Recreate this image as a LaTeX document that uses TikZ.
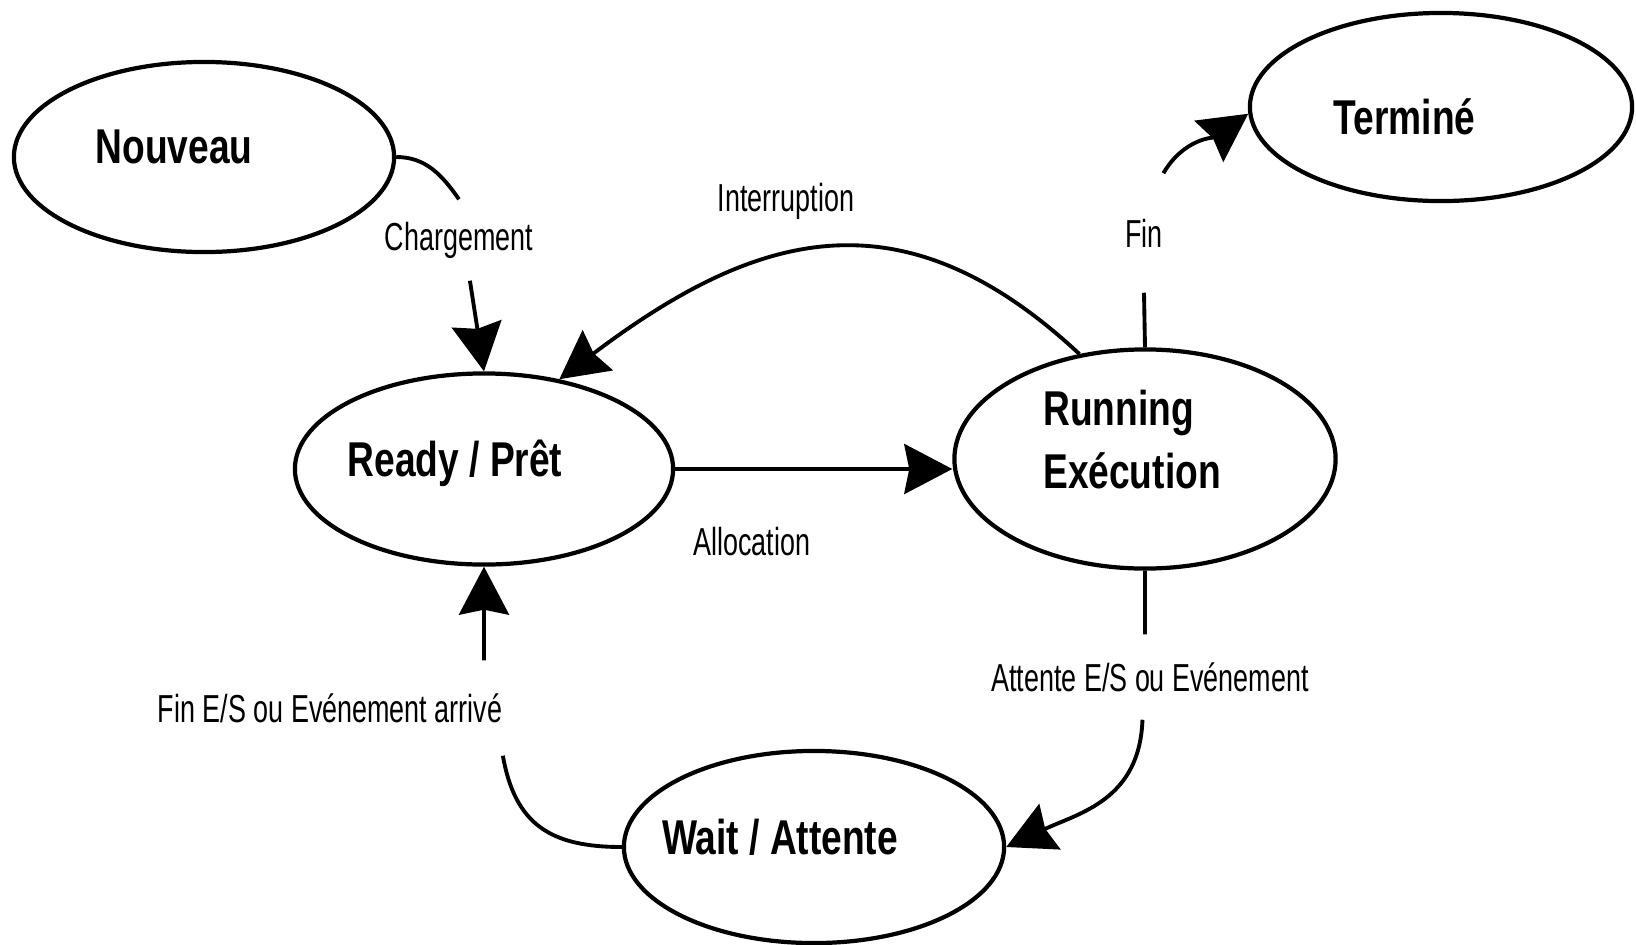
\documentclass[tikz,border=0pt]{standalone}
\usepackage{fontspec}
\usetikzlibrary{shapes.geometric,arrows.meta}
\newfontfamily\grasfont[FakeStretch=0.76]{Liberation Sans}
\newfontfamily\petitfont[FakeStretch=0.69]{Liberation Sans}
\newcommand{\bas}[1]{\rule[-#1]{0pt}{#1}}

\begin{document}
\begin{tikzpicture}[x=0.01cm, y=0.01cm,
   etat/.style={ellipse, draw, line width=1.2pt, inner sep=0pt, minimum width=3.8cm, minimum height=1.9cm,
                align=left, font=\grasfont\bfseries\fontsize{13.9}{17.9}\selectfont},
   lbl/.style={inner sep=0pt, font=\petitfont\fontsize{11.1}{13}\selectfont},
   fleche/.style={-{Stealth[length=4.8mm,width=5mm,inset=0.5mm]}, line width=1.1pt}]
 \useasboundingbox (0,0) rectangle (1636,944);

 % les etats
 \node (nouveau) [etat] at (204,787) {\hspace*{-0.6cm}Nouveau\bas{0.2cm}};
 \node (termine) [etat, minimum width=3.82cm, minimum height=1.88cm] at (1441,837) {\hspace*{-0.73cm}Terminé\rule{0pt}{0.55cm}};
 \node (ready) [etat, minimum width=3.78cm, minimum height=1.91cm] at (484,475) {\hspace*{-0.58cm}Ready / Prêt\bas{0.22cm}};
 \node (running) [etat, minimum width=3.81cm, minimum height=2.19cm] at (1145,485) {\hspace*{-0.26cm}Running\\\hspace*{-0.26cm}Exécution\bas{0.4cm}};
 \node (wait) [etat, minimum height=1.92cm] at (814,97) {\hspace*{-0.68cm}Wait / Attente\bas{0.2cm}};

 % les transitions
 \node (charg) [lbl, minimum height=0.8cm] at (459,704) {Chargement};
 \node (interr) [lbl, anchor=base] at (786,733) {Interruption};
 \node (fin) [lbl, minimum height=1.18cm] at (1144,711) {Fin};
 \node (alloc) [lbl, anchor=base] at (752,389) {Allocation};
 \node (attente) [lbl, minimum height=0.84cm] at (1150,267) {Attente E/S ou Evénement};
 \node (finES) [lbl, minimum height=0.94cm] at (330,236) {Fin E/S ou Evénement arrivé};

 \draw[fleche] (nouveau.east) to[out=0,in=125] (charg.north) (charg.-75) -- (ready.north);
 \draw[fleche] (running.122) to[out=137,in=37,looseness=1.2] (ready.50);
 \draw[fleche] (ready.east) -- (ready.east -| running.west);
 \draw[fleche] (running.north) -- (fin.south) (fin.north east) to[out=60,in=215] (termine.182);
 \draw[fleche] (attente.north -| running.south) -- (running.south) (attente.-100) to[out=-92,in=25,looseness=1.1] (wait.east);
 \draw[fleche] (wait.west) to[out=180,in=-80,looseness=1.2] (finES.south east) (ready.south |- finES.north) -- (ready.south);
\end{tikzpicture}
\end{document}
